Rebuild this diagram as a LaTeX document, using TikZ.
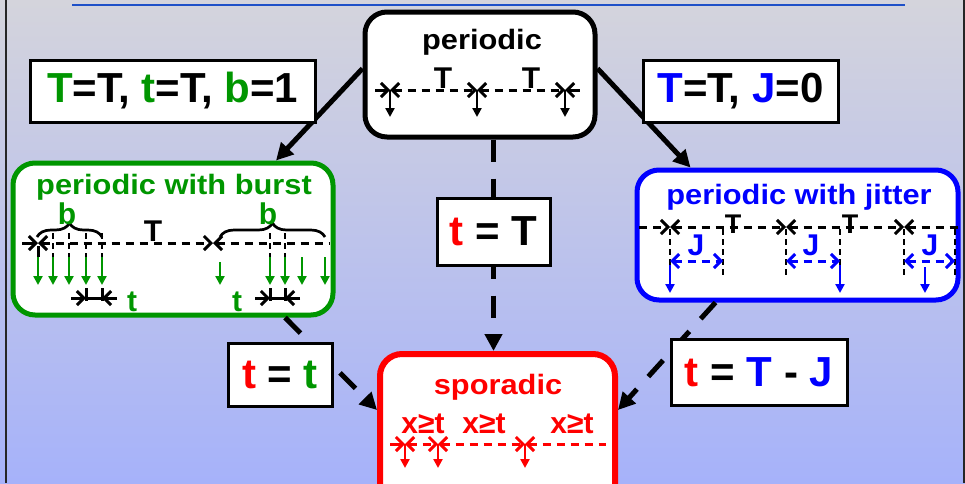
\documentclass[tikz,border=0pt]{standalone}
\usepackage{graphicx}
\usepackage{fontspec}
\setmainfont{Liberation Sans}
\usetikzlibrary{arrows.meta,decorations.pathreplacing,calc}
\definecolor{gr}{RGB}{0,150,0}
\definecolor{bl}{RGB}{0,0,255}
\definecolor{rd}{RGB}{255,0,0}
\definecolor{bgtop}{RGB}{212,212,220}
\definecolor{bgbot}{RGB}{166,178,250}
\definecolor{topline}{RGB}{30,80,200}
\newcommand\widetxt[1]{\scalebox{1.1}[1]{#1}}
\begin{document}
\begin{tikzpicture}[x=1pt,y=-1pt,
  >={Straight Barb[length=7pt,width=14pt]},
  box/.style={rounded corners=22pt,line width=5pt,fill=white,inner sep=0pt},
  lab/.style={draw=black,line width=3pt,fill=white,inner sep=0pt,font=\fontsize{42}{42}\selectfont\bfseries},
  title/.style={inner sep=0pt,anchor=base,font=\fontsize{28}{28}\selectfont\bfseries},
  small/.style={inner sep=0pt,anchor=base,font=\fontsize{30}{30}\selectfont\bfseries},
  conn/.style={line width=5pt,-{Triangle[length=17pt,width=17pt]}},
  dconn/.style={conn,dash pattern=on 22pt off 17pt},
  tl/.style={line width=3pt,dash pattern=on 8pt off 6pt},
  tls/.style={line width=3pt},
  dn/.style={line width=2.5pt,-{Triangle[length=9pt,width=9pt]}},
  vd/.style={line width=2.7pt,dash pattern=on 6pt off 4pt},
  brc/.style={line width=2.7pt,decorate,decoration={brace,amplitude=14pt}},
]
\useasboundingbox (0,0) rectangle (965,483);
\clip (0,0) rectangle (965,483);
\shade[top color=bgtop,bottom color=bgbot] (0,0) rectangle (965,483);
\draw[line width=2.5pt,black!85] (6,0) -- (6,483);
\draw[line width=2.5pt,black!85] (964,0) -- (964,483);
\draw[line width=1.2pt,topline] (72,5) -- (905,5);

% main boxes
\node[box,draw=black,minimum width=230pt,minimum height=125pt] (per) at (480,74.5) {};
\node[box,draw=gr,minimum width=320pt,minimum height=152pt] (burst) at (173,239) {};
\node[box,draw=bl,minimum width=321pt,minimum height=130pt] (jit) at (797.5,235) {};
\node[box,draw=rd,line width=6pt,minimum width=235pt,minimum height=156pt] (spor) at (497.5,432) {};

% label box positions
\path (172.5,91) coordinate (l1c) (740.5,91) coordinate (l2c)
      (493.5,231.5) coordinate (l3c) (280,374.5) coordinate (l4c) (759,372) coordinate (l5c);

% connectors
\draw[conn] ([yshift=6pt]per.west) -- ([xshift=103pt]burst.north);
\draw[conn] ([yshift=6pt]per.east) -- ([xshift=-107pt]jit.north);
\draw[dconn] (per.south -| l3c) -- (spor.north -| l3c);
\draw[dconn] ([xshift=112pt]burst.south) -- ([yshift=22pt]spor.west);
\draw[dconn] ([xshift=-82pt]jit.south) -- ([yshift=22pt]spor.east);

\node[lab,minimum width=285pt,minimum height=62pt] (l1) at (l1c) {{\color{gr}T}=T, {\color{gr}t}=T, {\color{gr}b}=1};
\node[lab,minimum width=195pt,minimum height=62pt] (l2) at (l2c) {{\color{bl}T}=T, {\color{bl}J}=0};
\node[lab,minimum width=113pt,minimum height=67pt] (l3) at (l3c) {{\color{rd}t} = T};
\node[lab,minimum width=104pt,minimum height=63pt] (l4) at (l4c) {{\color{rd}t} = {\color{gr}t}};
\node[lab,minimum width=176pt,minimum height=66pt] (l5) at (l5c) {{\color{rd}t} = {\color{bl}T} - {\color{bl}J}};

% titles
\node[title] (tper) at (482,49) {\widetxt{periodic}};
\node[title,text=gr] (tbur) at (174,194) {\widetxt{periodic with burst}};
\node[title,text=bl] (tjit) at (799,204) {\widetxt{periodic with jitter}};
\node[title,text=rd] (tspo) at (498,394) {\widetxt{sporadic}};

% periodic timeline
\draw[tls,->] (375,90) -- (390,90);
\draw[tl,<->] (390,90) -- (477,90);
\draw[tl,<->] (477,90) -- (565,90);
\draw[tls,<-] (565,90) -- (580,90);
\foreach \x in {390,477,565} \draw[dn] (\x,90) -- (\x,117);
\node[small] at (443,88) {T};
\node[small] at (531,88) {T};

% burst timeline
\draw[tls,->] (22,243) -- (38,243);
\draw[tl,<->] (38,243) -- (213,243);
\draw[tl,<-] (213,243) -- (329,243);
\node[small] at (153,241) {T};
\draw[brc] (37,237) -- (102,237);
\draw[brc] (220,237) -- (325,237);
\node[small,text=gr] at (67,224) {b};
\node[small,text=gr] at (268,224) {b};
\foreach \x in {53,69,86,102,270,285} \draw[vd] (\x,233) -- (\x,257);
\draw[tls] (38,246) -- (38,257);
\foreach \x in {38,53,69,86,102,270,285,302,325} \draw[dn,gr] (\x,257) -- (\x,285);
\draw[dn,gr] (220,262) -- (220,285);
\foreach \x in {86,102,270,285} \draw[tls] (\x,288) -- (\x,301);
\draw[tls,->] (71,298) -- (86,298);
\draw[tls,->] (117,298) -- (102,298);
\draw[tls] (86,298) -- (102,298);
\draw[tls,->] (255,298) -- (270,298);
\draw[tls,->] (300,298) -- (285,298);
\draw[tls] (270,298) -- (285,298);
\node[small,text=gr] at (132,311) {t};
\node[small,text=gr] at (237,311) {t};

% jitter timeline
\draw[tl,->] (639,227) -- (670,227);
\draw[tl,<->] (670,227) -- (786,227);
\draw[tl,<->] (786,227) -- (904,227);
\draw[tl,<-] (904,227) -- (958,227);
\node[small,font=\fontsize{27}{27}\selectfont\bfseries] at (733,233) {T};
\node[small,font=\fontsize{27}{27}\selectfont\bfseries] at (850,233) {T};
\foreach \x in {670,723,786,840,904,955} \draw[vd] (\x,229) -- (\x,276);
\foreach \a/\b in {670/723,786/840,904/955} \draw[tl,bl,<->] (\a,261) -- (\b,261);
\node[small,text=bl] at (696,255) {J};
\node[small,text=bl] at (811,255) {J};
\node[small,text=bl] at (930,255) {J};
\draw[dn,bl] (670,265) -- (670,293);
\draw[dn,bl] (840,265) -- (840,293);
\draw[dn,bl] (925,267) -- (925,293);

% sporadic timeline
\draw[tls,rd,->] (390,444) -- (405,444);
\draw[tl,rd,<->] (405,444) -- (438,444);
\draw[tl,rd,<->] (438,444) -- (525,444);
\draw[tl,rd,<-] (525,444) -- (606,444);
\foreach \x in {405,438,525} \draw[dn,rd] (\x,444) -- (\x,468);
\node[small,text=rd] at (423,433) {x≥t};
\node[small,text=rd] at (484,433) {x≥t};
\node[small,text=rd] at (572,433) {x≥t};
\end{tikzpicture}
\end{document}
